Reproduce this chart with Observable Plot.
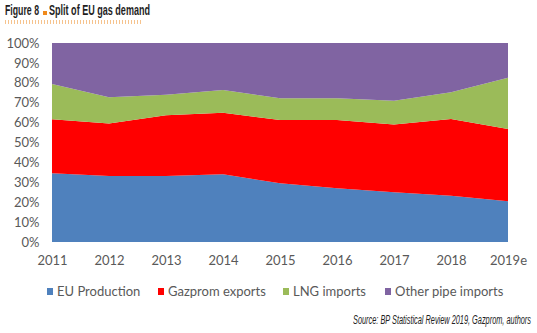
<!DOCTYPE html>
<html><head><meta charset="utf-8">
<script src="https://cdn.jsdelivr.net/npm/d3@7"></script>
<script src="https://cdn.jsdelivr.net/npm/@observablehq/plot@0.6"></script>
<style>
body{margin:0;background:#fff;}
#wrap{position:relative;width:537px;height:333px;overflow:hidden;font-family:Lato,sans-serif;background:#fff;}
.fit{position:absolute;white-space:nowrap;transform-origin:0 0;}
#t1,#t2{font-family:"Liberation Sans Narrow","Liberation Sans",sans-serif;font-weight:bold;font-size:14px;color:#1e1e1e;top:2px;}
#sq{position:absolute;left:43px;top:11px;width:4px;height:4px;background:#f08a1c;}
#uline{position:absolute;left:5px;top:20px;width:138px;height:4px;background:repeating-linear-gradient(90deg,#f6c38d 0 1px,transparent 1px 3px);}
#src{font-family:"Liberation Sans Narrow","Liberation Sans",sans-serif;font-style:italic;font-size:12.5px;color:#222;top:313px;}
#chart{position:absolute;left:0;top:30px;}
.leg{position:absolute;top:283px;font-size:13px;color:#595959;white-space:nowrap;line-height:16px;}
.leg span{position:absolute;top:5px;left:0;width:6px;height:7px;}
.leg b{font-weight:normal;position:absolute;left:10px;top:0;}
</style></head><body>
<div id="wrap">
  <div class="fit" id="t1">Figure 8</div>
  <div id="sq"></div>
  <div class="fit" id="t2">Split of EU gas demand</div>
  <div id="uline"></div>
  <div id="chart"></div>
  <div id="legend"></div>
  <div class="fit" id="src">Source: BP Statistical Review 2019, Gazprom, authors</div>
</div>
<script>
// ---- data (shares of EU gas demand, %) ----
const years = ["2011","2012","2013","2014","2015","2016","2017","2018","2019e"];
const seriesNames = ["EU Production","Gazprom exports","LNG imports","Other pipe imports"];
const euProduction   = [34.5, 33.2, 33.2, 34.0, 29.5, 27.0, 25.0, 23.3, 20.5];
const gazpromExports = [27.2, 26.4, 30.5, 31.0, 31.8, 34.3, 34.1, 38.5, 36.3];
const lngImports     = [17.7, 13.1, 10.3, 11.4, 10.9, 10.9, 11.9, 13.4, 25.8];
const otherPipe      = [20.6, 27.3, 26.0, 23.6, 27.8, 27.8, 29.0, 24.8, 17.4];
const yTicks = [0,10,20,30,40,50,60,70,80,90,100];
const colors = ["#4f81bd","#ff0000","#9bbb59","#8064a2"];

const seriesValues = [euProduction, gazpromExports, lngImports, otherPipe];
const rows = [];
seriesNames.forEach((s, i) => years.forEach((y, j) => rows.push({year: y, series: s, value: seriesValues[i][j]})));

const chart = Plot.plot({
  width: 537, height: 245,
  marginLeft: 51, marginRight: 28, marginTop: 13, marginBottom: 33,
  style: {fontFamily: "Lato, sans-serif", fontSize: "13px", color: "#595959", background: "transparent"},
  x: {type: "point", domain: years, padding: 0, label: null},
  y: {domain: [0, 100], label: null},
  color: {domain: seriesNames, range: colors},
  marks: [
    Plot.areaY(rows, Plot.stackY({order: seriesNames}, {x: "year", y: "value", z: "series", fill: "series"})),
    Plot.axisY({ticks: yTicks, tickFormat: d => d + "%", tickSize: 0, tickPadding: 12, label: null}),
    Plot.axisX({tickSize: 0, tickPadding: 13, label: null})
  ]
});
document.getElementById("chart").appendChild(chart);

// legend
const legLefts = [47, 158, 283, 385];
const legend = document.getElementById("legend");
seriesNames.forEach((s, i) => {
  const d = document.createElement("div");
  d.className = "leg";
  d.style.left = legLefts[i] + "px";
  d.innerHTML = `<span style="background:${colors[i]}"></span><b>${s}</b>`;
  legend.appendChild(d);
});

// fit condensed texts to their widths in the reference
function fit(id, left, right) {
  const el = document.getElementById(id);
  const w = el.getBoundingClientRect().width;
  el.style.left = left + "px";
  el.style.transform = `scaleX(${(right - left) / w})`;
}
fit("t1", 5, 39);
fit("t2", 49, 150);
fit("src", 353, 531);
</script>
</body></html>
